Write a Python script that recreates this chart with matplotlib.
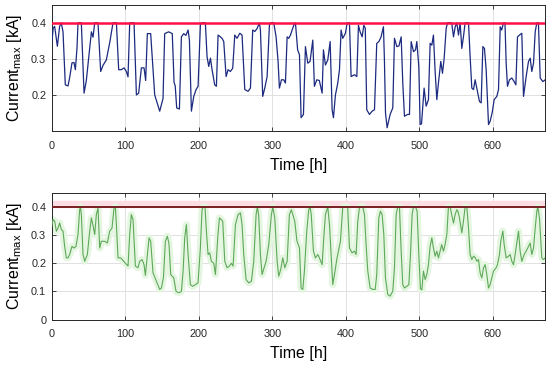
import matplotlib

matplotlib.use("Agg")
import matplotlib.pyplot as plt

# ── Data (hours, kA) ──
LIMIT = 0.4

hours_top = [
    0, 2, 4, 7.7, 10.8, 13, 15.4, 18.5, 22.2, 24.4,
    27.6, 30.3, 32.2, 34.4, 35.8, 40.3, 44, 47.1, 51.7, 54,
    56.2, 58.5, 63, 66.6, 69.8, 74.3, 78.9, 83.4, 88, 91.1,
    94.7, 98.4, 101.5, 103.8, 106.1, 112, 115.2, 118.3, 122, 125.6,
    127.8, 130.1, 134.6, 140.1, 146.9, 151.4, 153.7, 159.1, 164, 166.4,
    168, 170, 173.7, 176.4, 179.6, 182.5, 185.5, 187.3, 190, 193.2,
    196.4, 199.1, 202.2, 203.6, 209, 211.3, 213.6, 215.9, 218.1, 221.7,
    224, 226.3, 229.5, 232, 234, 237.2, 239.9, 243, 246.2, 249,
    252.1, 255.8, 258.9, 262.6, 267.1, 270.3, 273.4, 276.3, 279.3, 282.5,
    283.9, 287, 289.8, 293, 296.1, 298, 302, 305.2, 307.9, 309.7,
    312.5, 315.6, 317.9, 320.2, 322.4, 324.7, 327, 329.2, 331.5, 334.5,
    337, 339.2, 342.4, 345.1, 348.3, 351.4, 355.1, 357.3, 360.5, 364,
    367.8, 369.6, 372.3, 375.5, 378.7, 381.4, 383.2, 385.9, 389.1, 391.4,
    393.6, 395.9, 399.5, 401.3, 402.7, 405, 407.2, 411.8, 415, 417.2,
    419.5, 422.2, 424.5, 426.5, 428.5, 432.2, 435.8, 439, 442.1, 445,
    448, 451.2, 452.5, 454, 456.2, 460.3, 463.9, 466.2, 469.4, 472.3,
    475.3, 477.5, 479.8, 484, 486.6, 488.9, 492.1, 494.8, 496.6, 499.3,
    501.1, 503, 506.5, 509.3, 512.4, 514.7, 517, 519.2, 521.5, 523.8,
    526, 529.2, 531.5, 533.8, 536.5, 538.3, 544, 546.5, 548.8, 551,
    553.3, 555.5, 557.8, 560, 562.3, 566.9, 569.1, 571.4, 573.7, 575.9,
    578.2, 581.8, 584.1, 586.4, 588.6, 590.9, 594.1, 596.3, 599, 601.8,
    605.4, 607.7, 610, 612, 614.5, 616.5, 618.1, 619.9, 622.6, 625.8,
    629, 631.3, 633.5, 636.2, 639.4, 641.7, 645.3, 648.5, 650.8, 653,
    655.3, 657.6, 659.8, 662, 664.4, 668, 671.2,
]
current_top = [
    0.34, 0.385, 0.39, 0.335, 0.39, 0.40, 0.375, 0.228, 0.225, 0.248,
    0.289, 0.29, 0.27, 0.33, 0.40, 0.40, 0.205, 0.24, 0.33, 0.375,
    0.36, 0.40, 0.40, 0.265, 0.282, 0.297, 0.345, 0.40, 0.40, 0.27,
    0.27, 0.275, 0.265, 0.25, 0.40, 0.40, 0.20, 0.205, 0.275, 0.275,
    0.24, 0.37, 0.37, 0.20, 0.155, 0.19, 0.37, 0.375, 0.37, 0.235,
    0.225, 0.164, 0.161, 0.361, 0.37, 0.365, 0.38, 0.352, 0.155, 0.196,
    0.215, 0.224, 0.393, 0.40, 0.40, 0.306, 0.279, 0.302, 0.27, 0.228,
    0.224, 0.366, 0.361, 0.356, 0.348, 0.251, 0.27, 0.265, 0.274, 0.366,
    0.357, 0.371, 0.366, 0.215, 0.21, 0.219, 0.38, 0.376, 0.384, 0.40,
    0.38, 0.196, 0.219, 0.251, 0.393, 0.40, 0.40, 0.361, 0.293, 0.219,
    0.242, 0.242, 0.233, 0.361, 0.357, 0.366, 0.38, 0.393, 0.40, 0.325,
    0.311, 0.137, 0.146, 0.334, 0.288, 0.293, 0.352, 0.224, 0.242, 0.24,
    0.205, 0.325, 0.283, 0.297, 0.348, 0.159, 0.137, 0.20, 0.233, 0.27,
    0.38, 0.357, 0.371, 0.393, 0.40, 0.40, 0.251, 0.256, 0.251, 0.393,
    0.375, 0.361, 0.393, 0.385, 0.159, 0.146, 0.155, 0.159, 0.343, 0.348,
    0.361, 0.389, 0.30, 0.15, 0.109, 0.146, 0.164, 0.357, 0.334, 0.336,
    0.361, 0.233, 0.141, 0.146, 0.146, 0.348, 0.32, 0.325, 0.348, 0.279,
    0.118, 0.12, 0.219, 0.169, 0.187, 0.343, 0.338, 0.366, 0.265, 0.187,
    0.233, 0.293, 0.26, 0.302, 0.384, 0.40, 0.40, 0.361, 0.389, 0.40,
    0.366, 0.40, 0.329, 0.361, 0.40, 0.40, 0.306, 0.219, 0.215, 0.242,
    0.219, 0.182, 0.178, 0.334, 0.329, 0.27, 0.118, 0.127, 0.15, 0.187,
    0.196, 0.215, 0.389, 0.38, 0.40, 0.40, 0.288, 0.224, 0.242, 0.247,
    0.237, 0.228, 0.361, 0.366, 0.371, 0.196, 0.251, 0.293, 0.302, 0.265,
    0.288, 0.375, 0.40, 0.40, 0.247, 0.237, 0.242,
]

hours_bottom = [
    0, 1.8, 4, 6.3, 8.6, 10.8, 13.1, 15.4, 17.6, 19.9,
    22.2, 24.4, 27.6, 30.3, 33, 35.8, 38, 39, 40.3, 42.6,
    44.9, 48.5, 51.7, 54, 56.5, 58.5, 60.7, 63, 65.3, 67.5,
    72.1, 75.7, 78.9, 82, 84.8, 86.6, 88, 90.2, 93.8, 97,
    100.2, 103.8, 106.1, 108.3, 110.6, 113.8, 117.4, 119.7, 122.9, 125.6,
    127.4, 130.1, 132.4, 134.6, 137.8, 142.4, 146.9, 149.2, 152, 154.6,
    157.3, 159.5, 161.9, 166, 169.1, 172.8, 176.4, 178.7, 180.9, 183.2,
    185.5, 188.6, 191.8, 195.4, 199, 202.2, 204.5, 205.9, 208.5, 210.4,
    212.7, 214.9, 217.2, 220.4, 222.7, 225.8, 228.1, 230.8, 232.6, 235.4,
    238.5, 241.7, 244.4, 246.7, 249.9, 253.5, 256.7, 258.9, 261.2, 264.4,
    268, 271.6, 274.8, 278, 279.8, 281.5, 283.9, 286.1, 288.9, 291.6,
    295.2, 298.8, 300.7, 303.4, 306.6, 308.8, 311.5, 314.3, 317, 320.2,
    323.3, 326, 330.6, 333.5, 337, 339.2, 341.5, 343.7, 346.9, 349.6,
    351.4, 353, 356, 358.7, 361.9, 364.1, 367.8, 370, 372.3, 375.5,
    377.8, 380, 382.3, 384.6, 387.7, 390.4, 392.7, 395.9, 402.5, 405,
    408.6, 411.8, 414, 416.3, 418.6, 423.1, 425.4, 427.6, 429.9, 433.1,
    436.7, 440, 442.1, 444.9, 447.1, 449.4, 451.7, 453.9, 457.1, 460.3,
    463.9, 466.2, 468.5, 470.7, 473, 475.3, 477.5, 479.8, 483, 485.7,
    488, 490.2, 492, 494.8, 497, 499.3, 501.5, 503.4, 505.6, 507.9,
    510.2, 512.4, 514.7, 517, 519.2, 521.5, 523.8, 526, 528.3, 530.4,
    532.8, 535, 537.4, 539.6, 541.9, 544, 546.5, 548.7, 551, 552.5,
    554.6, 557.8, 560, 562.3, 564.6, 566.9, 569.1, 571.4, 573.7, 576,
    578.2, 580.5, 582.7, 585, 587.3, 589.5, 591.8, 594.1, 596.3, 598.6,
    600.9, 604.5, 606.3, 609, 610.8, 613.6, 615.4, 618.1, 621.3, 623.5,
    625.8, 628.1, 630.3, 632.6, 634.9, 637.1, 639.4, 642.6, 645.3, 648.5,
    650.8, 653, 655.3, 657.6, 659.8, 661.2, 663.4, 666.6, 668.9, 671.2,
]
current_bottom = [
    0.33, 0.355, 0.35, 0.314, 0.325, 0.343, 0.32, 0.314, 0.26, 0.219,
    0.219, 0.231, 0.26, 0.254, 0.26, 0.302, 0.39, 0.40, 0.375, 0.231,
    0.207, 0.231, 0.314, 0.361, 0.33, 0.302, 0.373, 0.396, 0.254, 0.278,
    0.278, 0.272, 0.314, 0.325, 0.396, 0.40, 0.337, 0.219, 0.219, 0.21,
    0.20, 0.19, 0.302, 0.373, 0.355, 0.19, 0.184, 0.207, 0.213, 0.195,
    0.157, 0.231, 0.29, 0.278, 0.166, 0.136, 0.107, 0.112, 0.15, 0.278,
    0.296, 0.27, 0.16, 0.148, 0.10, 0.095, 0.10, 0.172, 0.29, 0.337,
    0.231, 0.124, 0.118, 0.124, 0.13, 0.254, 0.39, 0.40, 0.40, 0.314,
    0.231, 0.237, 0.207, 0.20, 0.16, 0.29, 0.361, 0.355, 0.349, 0.207,
    0.184, 0.19, 0.20, 0.19, 0.337, 0.373, 0.379, 0.337, 0.231, 0.142,
    0.13, 0.136, 0.207, 0.373, 0.40, 0.37, 0.231, 0.16, 0.184, 0.207,
    0.266, 0.373, 0.40, 0.361, 0.207, 0.154, 0.178, 0.219, 0.184, 0.207,
    0.373, 0.39, 0.349, 0.28, 0.254, 0.112, 0.107, 0.172, 0.314, 0.39,
    0.40, 0.373, 0.243, 0.219, 0.231, 0.219, 0.195, 0.29, 0.373, 0.40,
    0.337, 0.231, 0.124, 0.16, 0.213, 0.249, 0.278, 0.40, 0.40, 0.254,
    0.237, 0.243, 0.231, 0.349, 0.40, 0.40, 0.373, 0.266, 0.172, 0.112,
    0.107, 0.107, 0.16, 0.361, 0.385, 0.373, 0.302, 0.148, 0.089, 0.083,
    0.101, 0.184, 0.373, 0.40, 0.40, 0.243, 0.124, 0.112, 0.118, 0.124,
    0.231, 0.373, 0.40, 0.40, 0.385, 0.231, 0.11, 0.105, 0.172, 0.142,
    0.16, 0.195, 0.26, 0.29, 0.254, 0.225, 0.243, 0.219, 0.243, 0.266,
    0.243, 0.266, 0.302, 0.40, 0.40, 0.373, 0.343, 0.373, 0.39, 0.385,
    0.361, 0.308, 0.349, 0.40, 0.40, 0.325, 0.231, 0.213, 0.225, 0.22,
    0.207, 0.213, 0.166, 0.148, 0.184, 0.195, 0.16, 0.112, 0.124, 0.148,
    0.172, 0.184, 0.195, 0.231, 0.278, 0.314, 0.266, 0.219, 0.225, 0.231,
    0.207, 0.195, 0.231, 0.272, 0.314, 0.243, 0.207, 0.231, 0.243, 0.26,
    0.272, 0.231, 0.254, 0.325, 0.385, 0.40, 0.361, 0.219, 0.213, 0.219,
]

x_ticks = [0, 100, 200, 300, 400, 500, 600]
y_ticks_top = [0.2, 0.3, 0.4]
y_ticks_bottom = [0, 0.1, 0.2, 0.3, 0.4]

assert len(hours_top) == len(current_top)
assert len(hours_bottom) == len(current_bottom)

plt.rcParams["font.family"] = ["Liberation Sans", "DejaVu Sans"]
plt.rcParams["mathtext.fontset"] = "custom"
plt.rcParams["mathtext.rm"] = "Liberation Sans"

fig = plt.figure(figsize=(5.5, 3.66), dpi=100)
ax_top = fig.add_axes([0.094, 0.642, 0.897, 0.345])
ax_bot = fig.add_axes([0.094, 0.127, 0.897, 0.346])

ylabel = r"Current$_{\mathregular{max}}$ [kA]"


def style_axes(ax, yticks, ylim):
    ax.set_xlim(0, 671)
    ax.set_ylim(*ylim)
    ax.set_xticks(x_ticks)
    ax.set_yticks(yticks)
    ax.set_yticklabels([f"{t:g}" for t in yticks])
    ax.grid(True, color="#dcdcdc", linewidth=0.6)
    ax.set_axisbelow(True)
    ax.tick_params(direction="in", length=3, width=0.6, labelsize=7.8,
                   top=True, right=True, colors="#262626")
    ax.tick_params(axis="x", pad=7)
    ax.tick_params(axis="y", pad=4)
    for sp in ax.spines.values():
        sp.set_color("#262626")
        sp.set_linewidth(0.7)
    ax.set_xlabel("Time [h]", fontsize=11.5, labelpad=5)
    ax.set_ylabel(ylabel, fontsize=11.5, labelpad=5)


# Top: blue series with bright red limit
ax_top.plot(hours_top, current_top, color="#1c2a80", linewidth=0.9, zorder=3)
ax_top.axhline(LIMIT, color="#ff1045", linewidth=1.8, zorder=4)
style_axes(ax_top, y_ticks_top, (0.1, 0.45))

# Bottom: green series with dark red limit and pink band
ax_bot.axhspan(LIMIT, LIMIT + 0.02, color="#fbdde3", zorder=1)
ax_bot.plot(hours_bottom, current_bottom, color="#e4f6e0", linewidth=5, zorder=2)
ax_bot.plot(hours_bottom, current_bottom, color="#5ea85a", linewidth=0.8, zorder=3)
ax_bot.axhline(LIMIT, color="#7a1f22", linewidth=1.4, zorder=4)
style_axes(ax_bot, y_ticks_bottom, (0, 0.45))

fig.savefig("out.png", dpi=100)
